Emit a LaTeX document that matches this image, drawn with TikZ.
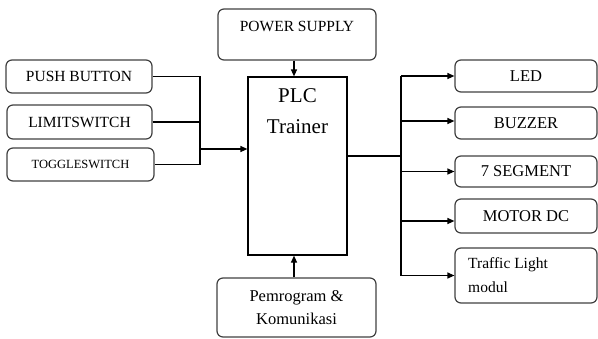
\documentclass[tikz,border=0pt]{standalone}
\usepackage{fontspec}
\setmainfont{Liberation Serif}
\usetikzlibrary{arrows.meta}
\definecolor{boxline}{HTML}{404040}
\begin{document}
\begin{tikzpicture}[x=1pt,y=-1pt,
  rbox/.style={draw=boxline,line width=1.2pt,rounded corners=6pt,inner sep=0pt},
  conn/.style={line width=1.2pt,black},
  arr/.style={conn,-{Triangle[length=7pt,width=6pt]}},
  lfont/.style={font=\fontsize{15.5}{18}\selectfont},
  rfont/.style={font=\fontsize{16.5}{20}\selectfont}]
\useasboundingbox (0,0) rectangle (598,338);
% left inputs
\node[rbox,lfont,minimum width=146pt,minimum height=33pt] (pb) at (79,76.5) {PUSH BUTTON};
\node[rbox,lfont,minimum width=145pt,minimum height=34pt] (ls) at (79.5,122) {LIMITSWITCH};
\node[rbox,font=\fontsize{12.5}{15}\selectfont,minimum width=147pt,minimum height=33pt] (ts) at (80.5,164.5) {TOGGLESWITCH};
% PLC
\node[draw,line width=1.2pt,minimum width=99pt,minimum height=178pt,inner sep=0pt] (plc) at (297.5,166) {};
\node[font=\fontsize{21}{31}\selectfont,align=center,anchor=north,inner sep=0pt] (plct) at (297.5,88) {PLC\\Trainer};
% power supply
\node[rbox,minimum width=158pt,minimum height=51pt] (ps) at (297,34.5) {};
\node[lfont,inner sep=0pt] (pst) at (297,26) {POWER SUPPLY};
% programmer
\node[rbox,align=center,minimum width=159pt,minimum height=59pt,font=\fontsize{16.5}{23}\selectfont] (pg) at (296.5,307.5) {Pemrogram \&\\Komunikasi};
% right outputs
\node[rbox,rfont,minimum width=142pt,minimum height=32pt] (led) at (526,76) {LED};
\node[rbox,rfont,minimum width=142pt,minimum height=32pt] (bz) at (526,123) {BUZZER};
\node[rbox,rfont,minimum width=142pt,minimum height=31pt] (sg) at (526,171.5) {7 SEGMENT};
\node[rbox,rfont,minimum width=142pt,minimum height=34pt] (mt) at (526,216) {MOTOR DC};
\node[rbox,minimum width=142pt,minimum height=55pt] (tl) at (526,275.5) {};
\node[align=left,anchor=west,inner sep=0pt,font=\fontsize{15.5}{24}\selectfont] (tlt) at (468,275) {Traffic Light\\modul};
% coordinates for buses
\coordinate (bl) at (200,0);
\coordinate (br) at (401,0);
\coordinate (bljoin) at (200,149);
% left connectors
\draw[conn] (pb.east) -- (pb.east -| bl) -- (ts.east -| bl) -- (ts.east);
\draw[conn] (ls.east) -- (ls.east -| bl);
\draw[arr] (bljoin) -- (bljoin -| plc.west);
% top and bottom
\draw[arr] (ps.south -| 294,0) -- (plc.north -| 294,0);
\draw[arr] (pg.north -| 294,0) -- (plc.south -| 294,0);
% right connectors
\coordinate (pout) at (347,156);
\draw[conn] (pout) -- (pout -| br);
\draw[conn] (led.west -| br) -- (tl.west -| br);
\draw[arr] (led.west -| br) -- (led.west);
\draw[arr] ([yshift=2pt]bz.west -| br) -- ([yshift=2pt]bz.west);
\draw[arr] (sg.west -| br) -- (sg.west);
\draw[arr] ([yshift=-5pt]mt.west -| br) -- ([yshift=-5pt]mt.west);
\draw[arr] (tl.west -| br) -- (tl.west);
\end{tikzpicture}
\end{document}
